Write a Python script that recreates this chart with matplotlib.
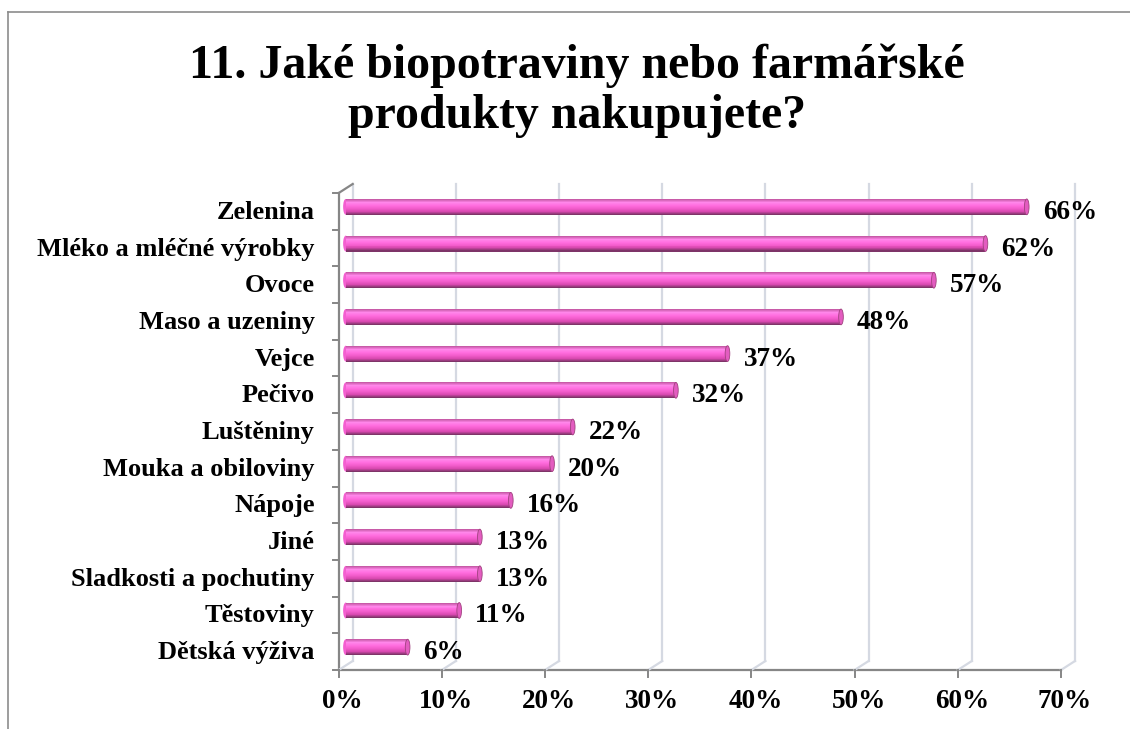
import matplotlib
matplotlib.use("Agg")
import matplotlib.pyplot as plt
import matplotlib.transforms as mtransforms
from matplotlib.patches import Rectangle, Ellipse
from matplotlib.colors import LinearSegmentedColormap
import numpy as np

categories = ["Zelenina", "Mléko a mléčné výrobky", "Ovoce", "Maso a uzeniny", "Vejce",
              "Pečivo", "Luštěniny", "Mouka a obiloviny", "Nápoje", "Jiné",
              "Sladkosti a pochutiny", "Těstoviny", "Dětská výživa"]
values = [66, 62, 57, 48, 37, 32, 22, 20, 16, 13, 13, 11, 6]
xticks = [0, 10, 20, 30, 40, 50, 60, 70]
title = "11. Jaké biopotraviny nebo farmářské\nprodukty nakupujete?"

FONT = "Liberation Serif"
W, H = 1130, 729
fig = plt.figure(figsize=(W / 100, H / 100), dpi=100)

# frame
fig.add_artist(plt.Line2D([8 / W, 8 / W], [0, 1 - 12 / H], color="#8c8c8c", lw=1.2, transform=fig.transFigure))
fig.add_artist(plt.Line2D([8 / W, 1], [1 - 12 / H, 1 - 12 / H], color="#8c8c8c", lw=1.2, transform=fig.transFigure))

left, right, bottom, top = 338.7, 1061, 670, 193
ax = fig.add_axes([left / W, (H - bottom) / H, (right - left) / W, (bottom - top) / H])
n = len(categories)
ax.set_xlim(0, 70)
ax.set_ylim(n - 0.5, -0.5)
ax.axis("off")

back = mtransforms.offset_copy(ax.transData, fig=fig, x=14, y=9, units="dots")
mid = mtransforms.offset_copy(ax.transData, fig=fig, x=7, y=4.5, units="dots")

grid_c = "#d5d9e2"
axis_c = "#868686"
ymin, ymax = n - 0.5, -0.5
for xv in xticks:
    ax.plot([xv, xv], [ymin, ymax], color=grid_c, lw=1.6, transform=back, clip_on=False, zorder=1)
    p0 = ax.transData.transform((xv, ymin))
    p1 = back.transform((xv, ymin))
    fig.add_artist(plt.Line2D([p0[0] / W, p1[0] / W], [p0[1] / H, p1[1] / H],
                              color=grid_c, lw=1.6, transform=fig.transFigure, zorder=1))

# left wall top slant
p0 = ax.transData.transform((0, ymax))
p1 = back.transform((0, ymax))
fig.add_artist(plt.Line2D([p0[0] / W, p1[0] / W], [p0[1] / H, p1[1] / H],
                          color=axis_c, lw=1.6, transform=fig.transFigure, zorder=5))
# front axes lines
ax.plot([0, 0], [ymin, ymax], color=axis_c, lw=1.6, clip_on=False, zorder=5)
ax.plot([0, 70], [ymin, ymin], color=axis_c, lw=1.6, clip_on=False, zorder=5)
for k in range(n + 1):
    yb = k - 0.5
    pa = ax.transData.transform((0, yb))
    fig.add_artist(plt.Line2D([(pa[0] - 6) / W, pa[0] / W], [pa[1] / H, pa[1] / H],
                              color=axis_c, lw=1.4, transform=fig.transFigure, zorder=5))
for xv in xticks:
    pa = ax.transData.transform((xv, ymin))
    fig.add_artist(plt.Line2D([pa[0] / W, pa[0] / W], [pa[1] / H, (pa[1] - 7) / H],
                              color=axis_c, lw=1.4, transform=fig.transFigure, zorder=5))
    ax.text(xv, ymin, f"{xv}%", transform=mtransforms.offset_copy(ax.transData, fig=fig, x=4, y=-31, units="dots"),
            ha="center", va="center", fontsize=19.5, fontweight="bold", family=FONT)

# bars (cylinders)
cmap = LinearSegmentedColormap.from_list("pk", ["#c85aa8", "#ff86ea", "#ff6edf", "#f25ccb", "#d849b0", "#7e3468"])
bh = 0.43
nstr = 16
for i, v in enumerate(values):
    ax.add_patch(Ellipse((0, i), 0.5, bh, facecolor="#f35fd0", edgecolor="none", transform=mid, zorder=3))
    for s in range(nstr):
        y0 = i - bh / 2 + s * bh / nstr
        ax.add_patch(Rectangle((0, y0), v, bh / nstr + 0.002, facecolor=cmap(s / (nstr - 1)),
                               edgecolor="none", transform=mid, zorder=3))
    ax.add_patch(Ellipse((v, i), 0.45, bh, facecolor="#e35cc0", edgecolor="#a0427f", lw=0.6,
                         transform=mid, zorder=4))
    ax.text(v, i, f"{v}%", transform=mtransforms.offset_copy(ax.transData, fig=fig, x=23, y=-1, units="dots"),
            ha="left", va="center", fontsize=19.5, fontweight="bold", family=FONT, zorder=6)
    ax.text(0, i, categories[i], transform=mtransforms.offset_copy(ax.transData, fig=fig, x=-24, y=-1, units="dots"),
            ha="right", va="center", fontsize=19, fontweight="bold", family=FONT)

fig.text(577 / W, 1 - 91 / H, title, ha="center", va="center", fontsize=34.5, fontweight="bold",
         family=FONT, linespacing=1.17)

fig.savefig("out.png", dpi=100)
